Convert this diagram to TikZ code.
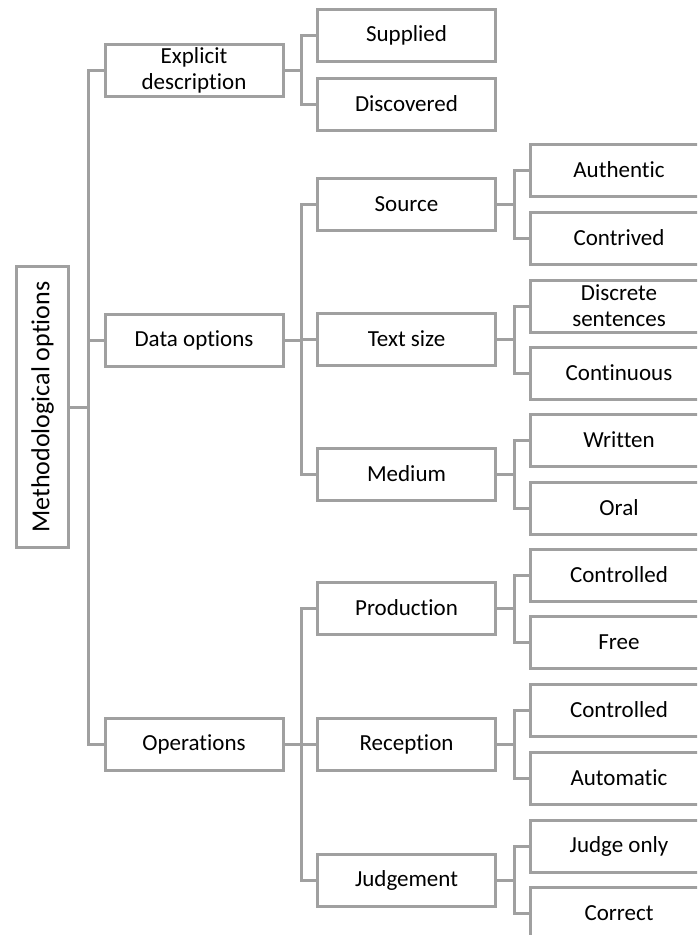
\documentclass[tikz,border=0pt]{standalone}
\usepackage{fontspec}
\setmainfont{Carlito}[Ligatures=NoCommon]
\usetikzlibrary{backgrounds}
\definecolor{linegray}{RGB}{160,160,160}

\begin{document}
\begin{tikzpicture}[x=1pt,y=-1pt,
	box/.style={draw=linegray,line width=3pt,rectangle,fill=white,minimum width=178pt,minimum height=52pt,inner sep=2pt,align=center,font=\fontsize{23}{26}\selectfont},
	link/.style={draw=linegray,line width=3pt}]
	\clip (0,0) rectangle (697,935);
		\begin {scope} [on background layer]
		\fill [white] (0,0) rectangle (697,935);
		\end {scope}

	\node [name=master,box,rotate=90,minimum width=281pt,font=\fontsize{26}{30}\selectfont] at (42.5,407) {Methodological options};

	\node [name=expl,box] at (194,70) {Explicit\\description};
	\node [name=data,box] at (194,340) {Data options};
	\node [name=oper,box] at (194,744) {Operations};

	\node [name=supplied,box] at (406.5,35) {Supplied};
	\node [name=discovered,box] at (406.5,104) {Discovered};

	\node [name=source,box] at (406.5,204) {Source};
	\node [name=textsize,box] at (406.5,339) {Text size};
	\node [name=medium,box] at (406.5,474) {Medium};

	\node [name=production,box] at (406.5,608) {Production};
	\node [name=reception,box] at (406.5,744) {Reception};
	\node [name=judgement,box] at (406.5,880) {Judgement};

	\node [name=authentic,box] at (619,170) {Authentic};
	\node [name=contrived,box] at (619,238) {Contrived};
	\node [name=discrete,box] at (619,306) {Discrete\\sentences};
	\node [name=continuous,box] at (619,373) {Continuous};
	\node [name=written,box] at (619,440) {Written};
	\node [name=oral,box] at (619,508) {Oral};

	\node [name=prodcontr,box] at (619,575) {Controlled};
	\node [name=free,box] at (619,642) {Free};
	\node [name=reccontr,box] at (619,710) {Controlled};
	\node [name=automatic,box] at (619,778) {Automatic};
	\node [name=judgeonly,box] at (619,846) {Judge only};
	\node [name=correct,box] at (619,913) {Correct};

	% master is turned, so its right side is .south
	\draw [link] (master.south) -- ++(18,0) |- (expl.west);
	\draw [link] (master.south) -- ++(18,0) |- (data.west);
	\draw [link] (master.south) -- ++(18,0) |- (oper.west);

	\draw [link] (expl.east) -- ++(16.5,0) |- (supplied.west);
	\draw [link] (expl.east) -- ++(16.5,0) |- (discovered.west);
	\draw [link] (data.east) -- ++(16.5,0) |- (source.west);
	\draw [link] (data.east) -- ++(16.5,0) |- (textsize.west);
	\draw [link] (data.east) -- ++(16.5,0) |- (medium.west);
	\draw [link] (oper.east) -- ++(16.5,0) |- (production.west);
	\draw [link] (oper.east) -- ++(16.5,0) |- (reception.west);
	\draw [link] (oper.east) -- ++(16.5,0) |- (judgement.west);

	\draw [link] (source.east) -- ++(17,0) |- (authentic.west);
	\draw [link] (source.east) -- ++(17,0) |- (contrived.west);
	\draw [link] (textsize.east) -- ++(17,0) |- (discrete.west);
	\draw [link] (textsize.east) -- ++(17,0) |- (continuous.west);
	\draw [link] (medium.east) -- ++(17,0) |- (written.west);
	\draw [link] (medium.east) -- ++(17,0) |- (oral.west);
	\draw [link] (production.east) -- ++(17,0) |- (prodcontr.west);
	\draw [link] (production.east) -- ++(17,0) |- (free.west);
	\draw [link] (reception.east) -- ++(17,0) |- (reccontr.west);
	\draw [link] (reception.east) -- ++(17,0) |- (automatic.west);
	\draw [link] (judgement.east) -- ++(17,0) |- (judgeonly.west);
	\draw [link] (judgement.east) -- ++(17,0) |- (correct.west);

\end{tikzpicture}
\end{document}
